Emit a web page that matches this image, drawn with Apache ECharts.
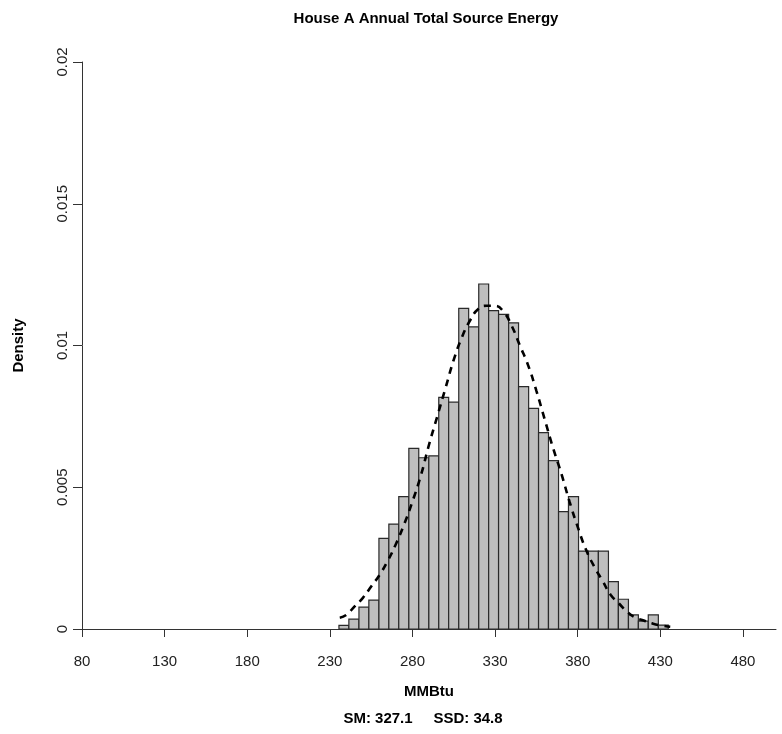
<!DOCTYPE html>
<html>
<head>
<meta charset="utf-8">
<script src="https://cdn.jsdelivr.net/npm/echarts@6/dist/echarts.min.js"></script>
<style>
html,body{margin:0;padding:0;background:#fff;}
#chart{width:782px;height:734px;}
</style>
</head>
<body>
<div id="chart"></div>
<script>
// Histogram bin edges (MMBtu)
var binEdges = [235.5, 241.5, 247.6, 253.6, 259.7, 265.7, 271.7, 277.8, 283.8, 289.9,
  295.9, 301.9, 308.0, 314.0, 320.1, 326.1, 332.1, 338.2, 344.2, 350.3,
  356.3, 362.3, 368.4, 374.4, 380.5, 386.5, 392.5, 398.6, 404.6, 410.7,
  416.7, 422.7, 428.8, 434.8];
// Bar densities
var densities = [0.00013, 0.00035, 0.00077, 0.00102, 0.0032, 0.0037, 0.00467, 0.00637, 0.00604, 0.00611,
  0.00817, 0.0080, 0.01131, 0.01066, 0.01217, 0.01123, 0.0111, 0.0108, 0.00855, 0.00778,
  0.00693, 0.00594, 0.00414, 0.00467, 0.00275, 0.00275, 0.00275, 0.00167, 0.00105, 0.0005,
  0.00028, 0.0005, 0.00014];
// Dashed density curve (x, density)
var curveX = [236, 240, 245, 250, 255, 260, 265, 270, 275, 280, 285, 290, 295, 300, 305, 310, 315, 320, 325, 330,
  335, 340, 345, 350, 355, 360, 365, 370, 375, 380, 385, 390, 395, 400, 405, 410, 415, 420, 425, 430, 436];
var curveY = [0.0004, 0.0005, 0.0008, 0.0011, 0.0015, 0.0019, 0.0024, 0.0030, 0.0037, 0.0045,
  0.0054, 0.0065, 0.0075, 0.0085, 0.0095, 0.0103, 0.0109, 0.0113, 0.0114, 0.0114,
  0.0112, 0.0107, 0.0100, 0.0093, 0.0084, 0.0074, 0.0064, 0.0055, 0.0045, 0.0036,
  0.0028, 0.0022, 0.0017, 0.0012, 0.0009, 0.0006, 0.0004, 0.0003, 0.0002, 0.00013, 0.00008];
var xTicks = [80, 130, 180, 230, 280, 330, 380, 430, 480];
var yTicks = [0, 0.005, 0.01, 0.015, 0.02];

var barData = densities.map(function (d, i) { return [binEdges[i], binEdges[i + 1], d]; });
var curveData = curveX.map(function (x, i) { return [x, curveY[i]]; });

var FONT = '"Liberation Sans Narrow", "Liberation Sans", Arial, sans-serif';
var chart = echarts.init(document.getElementById('chart'), null, {renderer: 'canvas'});
chart.setOption({
  animation: false,
  backgroundColor: '#ffffff',
  title: [{
    text: 'House A Annual Total Source Energy',
    left: 421, top: 6, textAlign: 'center',
    textStyle: {fontFamily: FONT, fontSize: 15, fontWeight: 'bold', color: '#000'}
  }, {
    text: 'SM: 327.1     SSD: 34.8',
    left: 418, top: 706, textAlign: 'center',
    textStyle: {fontFamily: FONT, fontSize: 15, fontWeight: 'bold', color: '#000'}
  }],
  grid: {left: 82, right: 6, top: 62, bottom: 105, containLabel: false},
  xAxis: {
    type: 'value', min: 80, max: 500,
    name: 'MMBtu', nameLocation: 'middle', nameGap: 55,
    nameTextStyle: {fontFamily: FONT, fontSize: 15, fontWeight: 'bold', color: '#000'},
    axisLine: {show: true, onZero: false, lineStyle: {color: '#333', width: 1}},
    axisTick: {show: true, length: 8, inside: false, customValues: xTicks, lineStyle: {color: '#333'}},
    axisLabel: {customValues: xTicks, margin: 25, fontFamily: FONT, fontSize: 15, color: '#222'},
    splitLine: {show: false}
  },
  yAxis: {
    type: 'value', min: 0, max: 0.02, interval: 0.005,
    name: 'Density', nameLocation: 'middle', nameGap: 56, nameRotate: 90,
    nameTextStyle: {fontFamily: FONT, fontSize: 15, fontWeight: 'bold', color: '#000'},
    axisLine: {show: true, lineStyle: {color: '#333', width: 1}},
    axisTick: {show: true, length: 9, lineStyle: {color: '#333'}},
    axisLabel: {rotate: 90, margin: 12, fontFamily: FONT, fontSize: 15, color: '#222'},
    splitLine: {show: false}
  },
  series: [{
    type: 'custom',
    data: barData,
    encode: {x: [0, 1], y: 2},
    renderItem: function (params, api) {
      var p0 = api.coord([api.value(0), api.value(2)]);
      var p1 = api.coord([api.value(1), 0]);
      return {
        type: 'rect',
        shape: {x: p0[0], y: p0[1], width: p1[0] - p0[0], height: p1[1] - p0[1]},
        style: {fill: '#bebebe', stroke: '#2a2a2a', lineWidth: 1.2}
      };
    },
    z: 2
  }, {
    type: 'line',
    data: curveData,
    smooth: true,
    showSymbol: false,
    symbol: 'none',
    lineStyle: {color: '#000', width: 2.6, type: [7, 6]},
    z: 3
  }]
});
</script>
</body>
</html>
